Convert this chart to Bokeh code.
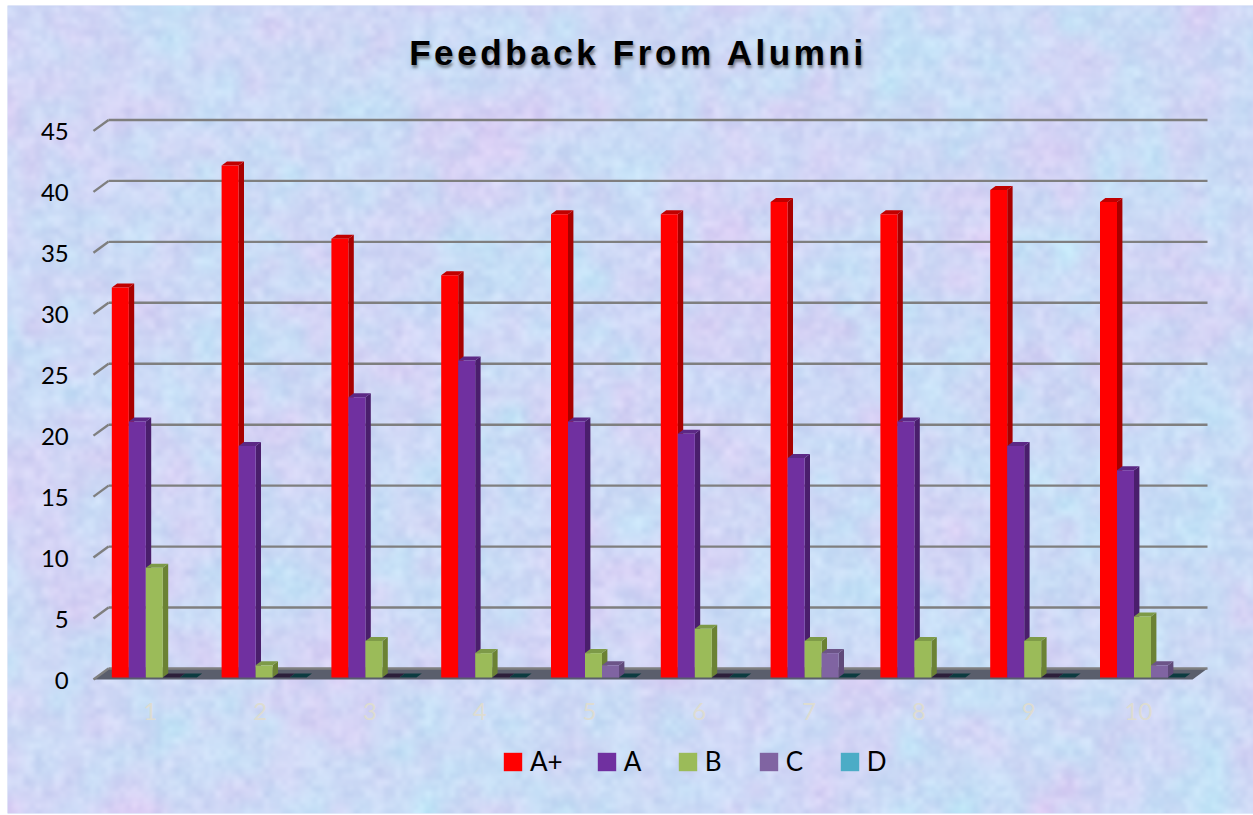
import numpy as np
from bokeh.plotting import figure
from bokeh.models import Legend, LegendItem, HTMLLabel
from bokeh.core.properties import value
from bokeh.embed import file_html
from bokeh.resources import INLINE

title_text = "Feedback From Alumni"
categories = ["1", "2", "3", "4", "5", "6", "7", "8", "9", "10"]
tick_values = [0, 5, 10, 15, 20, 25, 30, 35, 40, 45]
series_names = ["A+", "A", "B", "C", "D"]
a_plus = [32, 42, 36, 33, 38, 38, 39, 38, 40, 39]
a_grade = [21, 19, 23, 26, 21, 20, 18, 21, 19, 17]
b_grade = [9, 1, 3, 2, 2, 4, 3, 3, 3, 5]
c_grade = [0, 0, 0, 0, 1, 0, 2, 0, 0, 1]
d_grade = [0, 0, 0, 0, 0, 0, 0, 0, 0, 0]
series_values = [a_plus, a_grade, b_grade, c_grade, d_grade]
front_colors = ["#ff0000", "#7030a0", "#9bbb59", "#8064a2", "#4bacc6"]
side_colors = ["#a80000", "#4a1e6c", "#6b8234", "#5f4a7a", "#2f7f94"]
top_colors = ["#c00000", "#5c2885", "#7d9a48", "#6c5488", "#0c3b40"]
flat_top_colors = ["#c00000", "#5c2885", "#7d9a48", "#2c1f3a", "#0c3b40"]

CW, CH = 1253, 815
ML, MT, MB = 7, 5, 2
W, H = CW - ML, CH - MT - MB
PX_X, PX_Y = 109.8, 12.19
X0 = -0.337
Y0 = -11.157
p = figure(width=CW, height=CH, output_backend="svg", toolbar_location=None,
           x_range=(X0, X0 + W / PX_X), y_range=(Y0, Y0 + H / PX_Y),
           min_border_left=ML, min_border_right=0, min_border_top=MT, min_border_bottom=MB,
           outline_line_color=None, background_fill_color="#cdd8f6",
           border_fill_color="#ffffff")
p.axis.visible = False
p.grid.visible = False


def layer(cell, seed):
    """smooth deterministic texture field on a coarse lattice"""
    h, w = H // 2, W // 2
    gy, gx = h // cell + 3, w // cell + 3
    yy, xx = np.mgrid[0:gy, 0:gx]
    v = np.sin(xx * 12.9898 + yy * 78.233 + seed) * 43758.5453
    v = (v - np.floor(v)) * 2 - 1
    fy, fx = np.mgrid[0:h, 0:w] / cell
    iy, ix = fy.astype(int), fx.astype(int)
    ty, tx = fy - iy, fx - ix
    ty, tx = ty * ty * (3 - 2 * ty), tx * tx * (3 - 2 * tx)
    a = v[iy, ix] * (1 - tx) + v[iy, ix + 1] * tx
    b = v[iy + 1, ix] * (1 - tx) + v[iy + 1, ix + 1] * tx
    return a * (1 - ty) + b * ty


hue = layer(40, 1.3) * 0.5 + layer(14, 2.1) * 0.4
cool = layer(35, 4.4) * 0.5 + layer(11, 3.7) * 0.4
grain = layer(5, 7.9) * 0.6 + layer(3, 5.2) * 0.4
red = 206 + 12 * hue - 10 * cool + 12 * grain
green = 217 - 9 * hue + 9 * cool + 11 * grain
blue = 246 + 2 * cool + 6 * grain
img = np.zeros(red.shape + (4,), dtype=np.uint8)
img[..., 0] = np.clip(red, 0, 255)
img[..., 1] = np.clip(green, 0, 255)
img[..., 2] = np.clip(blue, 0, 255)
img[..., 3] = 255
rgba = img.view(dtype=np.uint32).reshape(red.shape)
p.image_rgba(image=[rgba], x=X0, y=Y0, dw=W / PX_X, dh=H / PX_Y)

# 3-D chart floor and gridlines
BACK = 0.74
WALL_Y = 0.90
LX_B, LX_F, RX_B, RX_F = 0.583, 0.446, 10.592, 10.456
p.patch([LX_F, RX_F, RX_B, LX_B], [BACK - WALL_Y, BACK - WALL_Y, BACK, BACK],
        fill_color="#5a5e6c", line_color=None)
ticks = np.array(tick_values, dtype=float)
p.segment(x0=[LX_B] * len(ticks), y0=ticks + BACK, x1=[RX_B] * len(ticks), y1=ticks + BACK,
          line_color="#7f7f7f", line_width=2.4)
p.segment(x0=[LX_F] * len(ticks), y0=ticks + BACK - WALL_Y, x1=[LX_B] * len(ticks), y1=ticks + BACK,
          line_color="#7f7f7f", line_width=2.4)

# bars
BW = 17 / PX_X
DX = 5.4 / PX_X
DY = 4 / PX_Y
xs = np.arange(1, len(categories) + 1, dtype=float)
bar_renderers = []
for k, (vals, name) in enumerate(zip(series_values, series_names)):
    left = xs + (k - 2.5) * BW
    right = left + BW
    side_x = [[r, r + DX, r + DX, r] for r, v in zip(right, vals) if v > 0]
    side_y = [[0, DY, v + DY, v] for v in vals if v > 0]
    if side_x:
        p.patches(side_x, side_y, fill_color=side_colors[k], line_color=None)
    top_x = [[l, r, r + DX, l + DX] for l, r in zip(left, right)]
    top_y = [[v, v, v + DY, v + DY] for v in vals]
    tc = [top_colors[k] if v > 0 else flat_top_colors[k] for v in vals]
    p.patches(top_x, top_y, fill_color=tc, line_color=None)
    r = p.vbar(x=(left + right) / 2, top=vals, bottom=0, width=BW,
               fill_color=front_colors[k], line_color=None)
    bar_renderers.append(r)

# axis labels as text glyphs on the chart's own scales
p.text(x=[LX_F - 0.225] * len(ticks), y=ticks, text=[str(t) for t in tick_values],
       text_font=value("Lato"), text_font_size="24px", text_color="#000000",
       text_align="right", text_baseline="middle", y_offset=3)
p.text(x=xs, y=[-2.75] * len(xs), text=categories, text_font=value("Lato"),
       text_font_size="24px", text_color="#dddcd2", text_align="center",
       text_baseline="middle", x_offset=-4)

legend = Legend(items=[LegendItem(label=n, renderers=[r]) for n, r in zip(series_names, bar_renderers)],
                orientation="horizontal", location=(494, 36), background_fill_alpha=0,
                border_line_color=None, padding=0, margin=0, spacing=32, label_standoff=6,
                glyph_width=23, glyph_height=23, label_text_font="Lato",
                label_text_font_size="26px", label_text_color="#000000")
p.add_layout(legend, "center")

p.add_layout(HTMLLabel(x=631, y=760, x_units="screen", y_units="screen", text=title_text,
                       text_font="Lato", text_font_style="bold", text_font_size="35px",
                       text_color="#000000", text_align="center", text_baseline="middle",
                       styles={"letter-spacing": "3.6px",
                               "text-shadow": "1px 3px 3px rgba(40,40,40,0.55)"}))

open("out.html", "w").write(file_html(p, INLINE))
